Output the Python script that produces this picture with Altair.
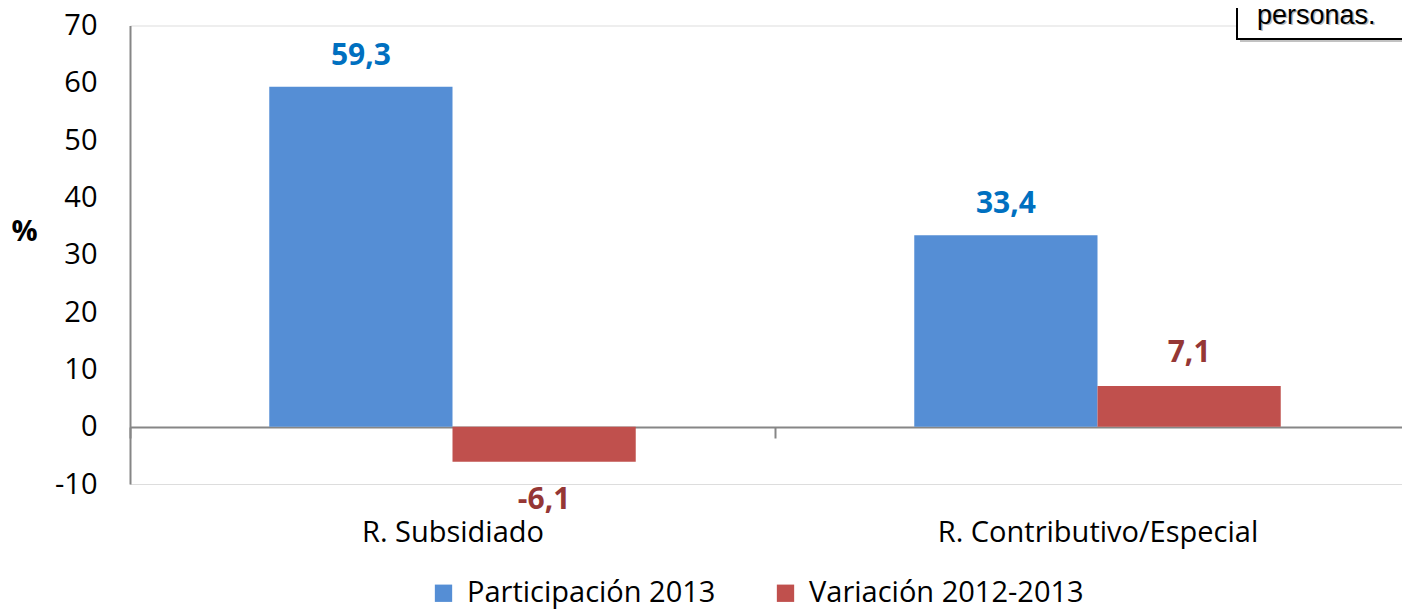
import altair as alt
import pandas as pd

categories = ["R. Subsidiado", "R. Contributivo/Especial"]
series = ["Participación 2013", "Variación 2012-2013"]
participacion = [59.3, 33.4]
variacion = [-6.1, 7.1]
y_ticks = [-10, 0, 10, 20, 30, 40, 50, 60, 70]
bar_colors = ["#558ED5", "#C0504D"]
label_colors = ["#0070C0", "#953735"]
note_text = ["personas."]

rows = []
for i, c in enumerate(categories):
    for s, vals in zip(series, [participacion, variacion]):
        v = vals[i]
        rows.append({"cat": c, "serie": s, "valor": v,
                     "etiqueta": f"{v:.1f}".replace(".", ",")})
df = pd.DataFrame(rows)

FONT = "Open Sans"
GRAY = "#868686"

x_enc = alt.X(
    "cat:N", sort=categories,
    scale=alt.Scale(paddingInner=0, paddingOuter=0),
    axis=alt.Axis(title=None, orient="bottom", offset=-57,
                  domainColor=GRAY, domainWidth=2,
                  tickColor=GRAY, tickWidth=2, tickSize=11, tickBand="extent",
                  labelPadding=80, labelFontSize=29, labelFont=FONT, labelLimit=0,
                  labelColor="black", labelAngle=0, labelBaseline="top"),
)
xoff_enc = alt.XOffset("serie:N", sort=series,
                       scale=alt.Scale(paddingOuter=0.76, paddingInner=0))
y_scale = alt.Scale(domain=[-10, 70], nice=False, zero=False)
y_enc = alt.Y(
    "valor:Q", scale=y_scale, stack=None,
    axis=alt.Axis(values=y_ticks, title="%", titleAngle=0, titleX=-106, titleY=205.5,
                  titleFontSize=29, titleFont=FONT, titleFontWeight="bold",
                  titleAlign="center", titleBaseline="middle", titleColor="black",
                  grid=False, ticks=False, tickSize=0, labelPadding=33,
                  labelExpr="datum.value + ''",
                  labelFontSize=29, labelFont=FONT, labelColor="black",
                  domainColor=GRAY, domainWidth=2),
)

bars = alt.Chart(df).mark_bar().encode(
    x=x_enc, xOffset=xoff_enc, y=y_enc,
    color=alt.Color("serie:N", sort=series,
                    scale=alt.Scale(domain=series, range=bar_colors),
                    legend=alt.Legend(title=None, orient="none", legendX=299, legendY=553,
                                      direction="horizontal", symbolType="square",
                                      symbolSize=300, symbolStrokeWidth=0,
                                      labelFontSize=29, labelFont=FONT, labelColor="black",
                                      labelLimit=0, labelOffset=9, columnPadding=55,
                                      padding=0)),
)

layers = [bars]
offsets = {(0, True): -31, (1, True): -33, (0, False): 38, (1, False): 38}
for si, s in enumerate(series):
    for pos in (True, False):
        cond = f"datum.serie == '{s}' && datum.valor {'>=' if pos else '<'} 0"
        layers.append(
            alt.Chart(df).transform_filter(cond).mark_text(
                font=FONT, fontSize=30, fontWeight="bold", color=label_colors[si],
                baseline="middle", align="center", dy=offsets[(si, pos)],
            ).encode(x=alt.X("cat:N", sort=categories), xOffset=alt.XOffset("serie:N", sort=series),
                     y=alt.Y("valor:Q", scale=y_scale), text="etiqueta:N")
        )

note_df = pd.DataFrame({"nota": note_text})
shadow = alt.Chart(note_df).mark_rect(fill="#9a9a9a", opacity=0.6).encode(
    x=alt.value(1110), x2=alt.value(1320), y=alt.value(-40), y2=alt.value(16.5))
box = alt.Chart(note_df).mark_rect(fill="white", stroke="black", strokeWidth=2).encode(
    x=alt.value(1107), x2=alt.value(1320), y=alt.value(-40), y2=alt.value(13.5))
note_sh = alt.Chart(note_df).mark_text(font="Liberation Sans", fontSize=27, align="left",
                                       baseline="alphabetic", color="#bbbbbb", dx=1.5, dy=1.5).encode(
    x=alt.value(1127), y=alt.value(-2), text="nota:N")
note = alt.Chart(note_df).mark_text(font="Liberation Sans", fontSize=27, align="left",
                                    baseline="alphabetic", color="black").encode(
    x=alt.value(1127), y=alt.value(-2), text="nota:N")

chart = alt.layer(*layers, shadow, box, note_sh, note).properties(
    width=1290, height=458.5,
    autosize=alt.AutoSizeParams(type="none"),
    padding={"left": 122, "top": 17.5, "right": -18, "bottom": 126},
).configure_view(stroke=None).configure(font=FONT)

chart.save("out.html", embed_options={"renderer": "svg", "actions": False})
